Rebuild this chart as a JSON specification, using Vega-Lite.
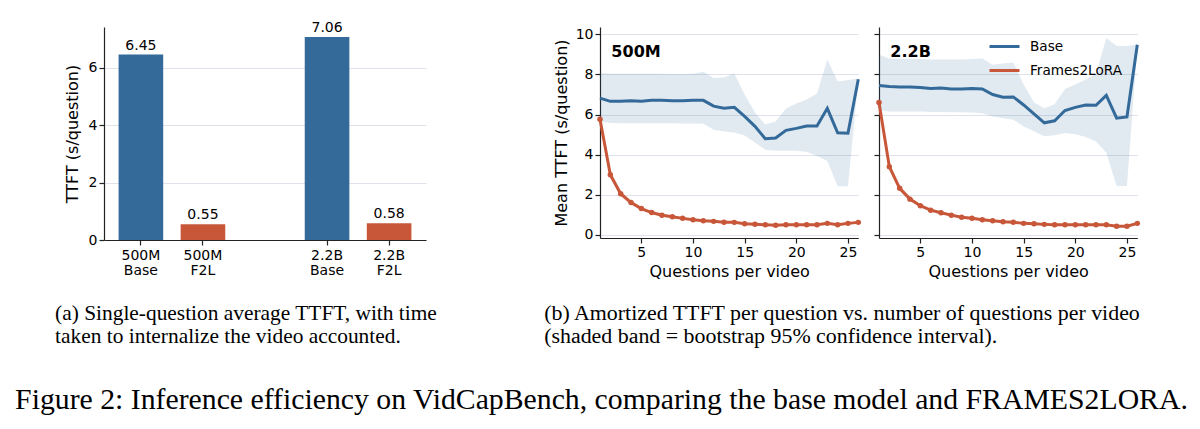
{
  "$schema": "https://vega.github.io/schema/vega-lite/v6.json",
  "padding": {"left": 15, "top": 21, "right": 0, "bottom": 0},
  "background": "white",
  "config": {
    "font": "DejaVu Sans",
    "view": {"stroke": null},
    "axis": {
      "labelFont": "DejaVu Sans", "labelFontSize": 14, "labelColor": "#000",
      "titleFont": "DejaVu Sans", "titleFontSize": 16, "titleFontWeight": "normal", "titleColor": "#000",
      "domainColor": "#222", "tickColor": "#222", "tickSize": 5, "domainWidth": 1.2, "tickWidth": 1.2,
      "gridColor": "#dfe2ea", "gridWidth": 1
    },
    "legend": {"labelFont": "DejaVu Sans", "labelFontSize": 14, "labelColor": "#000"}
  },
  "datasets": {
    "bars": [
      {"label": "500M Base", "s": "Base", "v": 6.45},
      {"label": "500M F2L", "s": "Frames2LoRA", "v": 0.55},
      {"label": "2.2B Base", "s": "Base", "v": 7.06},
      {"label": "2.2B F2L", "s": "Frames2LoRA", "v": 0.58}
    ],
    "lines": [
      {"m": "500M", "s": "Base", "q": 1, "y": 6.82, "lo": 5.66, "hi": 8.07},
      {"m": "500M", "s": "Base", "q": 2, "y": 6.66, "lo": 5.58, "hi": 8.04},
      {"m": "500M", "s": "Base", "q": 3, "y": 6.66, "lo": 5.57, "hi": 8.04},
      {"m": "500M", "s": "Base", "q": 4, "y": 6.69, "lo": 5.57, "hi": 8.04},
      {"m": "500M", "s": "Base", "q": 5, "y": 6.67, "lo": 5.57, "hi": 8.04},
      {"m": "500M", "s": "Base", "q": 6, "y": 6.71, "lo": 5.57, "hi": 8.04},
      {"m": "500M", "s": "Base", "q": 7, "y": 6.71, "lo": 5.57, "hi": 8.04},
      {"m": "500M", "s": "Base", "q": 8, "y": 6.69, "lo": 5.57, "hi": 8.03},
      {"m": "500M", "s": "Base", "q": 9, "y": 6.69, "lo": 5.56, "hi": 8.03},
      {"m": "500M", "s": "Base", "q": 10, "y": 6.71, "lo": 5.56, "hi": 8.04},
      {"m": "500M", "s": "Base", "q": 11, "y": 6.71, "lo": 5.54, "hi": 8.14},
      {"m": "500M", "s": "Base", "q": 12, "y": 6.42, "lo": 5.24, "hi": 7.82},
      {"m": "500M", "s": "Base", "q": 13, "y": 6.32, "lo": 5.16, "hi": 7.85},
      {"m": "500M", "s": "Base", "q": 14, "y": 6.36, "lo": 5.11, "hi": 8.05},
      {"m": "500M", "s": "Base", "q": 15, "y": 5.91, "lo": 4.95, "hi": 7.0},
      {"m": "500M", "s": "Base", "q": 16, "y": 5.41, "lo": 4.6, "hi": 6.1},
      {"m": "500M", "s": "Base", "q": 17, "y": 4.79, "lo": 4.24, "hi": 5.5},
      {"m": "500M", "s": "Base", "q": 18, "y": 4.83, "lo": 4.2, "hi": 5.65},
      {"m": "500M", "s": "Base", "q": 19, "y": 5.21, "lo": 4.2, "hi": 6.3},
      {"m": "500M", "s": "Base", "q": 20, "y": 5.31, "lo": 4.2, "hi": 6.55},
      {"m": "500M", "s": "Base", "q": 21, "y": 5.43, "lo": 4.14, "hi": 6.75},
      {"m": "500M", "s": "Base", "q": 22, "y": 5.43, "lo": 3.93, "hi": 7.05},
      {"m": "500M", "s": "Base", "q": 23, "y": 6.31, "lo": 3.68, "hi": 8.75},
      {"m": "500M", "s": "Base", "q": 24, "y": 5.09, "lo": 2.42, "hi": 7.65},
      {"m": "500M", "s": "Base", "q": 25, "y": 5.07, "lo": 2.42, "hi": 7.72},
      {"m": "500M", "s": "Base", "q": 26, "y": 7.76, "lo": 7.7, "hi": 7.8},
      {"m": "500M", "s": "Frames2LoRA", "q": 1, "y": 5.77, "lo": 5.52, "hi": 6.02},
      {"m": "500M", "s": "Frames2LoRA", "q": 2, "y": 3.0, "lo": 2.8, "hi": 3.2},
      {"m": "500M", "s": "Frames2LoRA", "q": 3, "y": 2.05, "lo": 1.9, "hi": 2.2},
      {"m": "500M", "s": "Frames2LoRA", "q": 4, "y": 1.61, "lo": 1.49, "hi": 1.73},
      {"m": "500M", "s": "Frames2LoRA", "q": 5, "y": 1.31, "lo": 1.23, "hi": 1.39},
      {"m": "500M", "s": "Frames2LoRA", "q": 6, "y": 1.11, "lo": 1.03, "hi": 1.19},
      {"m": "500M", "s": "Frames2LoRA", "q": 7, "y": 0.98, "lo": 0.9, "hi": 1.06},
      {"m": "500M", "s": "Frames2LoRA", "q": 8, "y": 0.9, "lo": 0.82, "hi": 0.98},
      {"m": "500M", "s": "Frames2LoRA", "q": 9, "y": 0.82, "lo": 0.77, "hi": 0.87},
      {"m": "500M", "s": "Frames2LoRA", "q": 10, "y": 0.75, "lo": 0.7, "hi": 0.8},
      {"m": "500M", "s": "Frames2LoRA", "q": 11, "y": 0.7, "lo": 0.65, "hi": 0.75},
      {"m": "500M", "s": "Frames2LoRA", "q": 12, "y": 0.67, "lo": 0.62, "hi": 0.72},
      {"m": "500M", "s": "Frames2LoRA", "q": 13, "y": 0.63, "lo": 0.58, "hi": 0.68},
      {"m": "500M", "s": "Frames2LoRA", "q": 14, "y": 0.62, "lo": 0.57, "hi": 0.67},
      {"m": "500M", "s": "Frames2LoRA", "q": 15, "y": 0.55, "lo": 0.5, "hi": 0.6},
      {"m": "500M", "s": "Frames2LoRA", "q": 16, "y": 0.53, "lo": 0.48, "hi": 0.58},
      {"m": "500M", "s": "Frames2LoRA", "q": 17, "y": 0.5, "lo": 0.45, "hi": 0.55},
      {"m": "500M", "s": "Frames2LoRA", "q": 18, "y": 0.48, "lo": 0.43, "hi": 0.53},
      {"m": "500M", "s": "Frames2LoRA", "q": 19, "y": 0.5, "lo": 0.45, "hi": 0.55},
      {"m": "500M", "s": "Frames2LoRA", "q": 20, "y": 0.5, "lo": 0.45, "hi": 0.55},
      {"m": "500M", "s": "Frames2LoRA", "q": 21, "y": 0.5, "lo": 0.45, "hi": 0.55},
      {"m": "500M", "s": "Frames2LoRA", "q": 22, "y": 0.5, "lo": 0.45, "hi": 0.55},
      {"m": "500M", "s": "Frames2LoRA", "q": 23, "y": 0.57, "lo": 0.52, "hi": 0.62},
      {"m": "500M", "s": "Frames2LoRA", "q": 24, "y": 0.5, "lo": 0.45, "hi": 0.55},
      {"m": "500M", "s": "Frames2LoRA", "q": 25, "y": 0.57, "lo": 0.52, "hi": 0.62},
      {"m": "500M", "s": "Frames2LoRA", "q": 26, "y": 0.62, "lo": 0.57, "hi": 0.67},
      {"m": "2.2B", "s": "Base", "q": 1, "y": 7.45, "lo": 6.23, "hi": 8.98},
      {"m": "2.2B", "s": "Base", "q": 2, "y": 7.4, "lo": 6.15, "hi": 8.8},
      {"m": "2.2B", "s": "Base", "q": 3, "y": 7.38, "lo": 6.15, "hi": 8.77},
      {"m": "2.2B", "s": "Base", "q": 4, "y": 7.37, "lo": 6.15, "hi": 8.77},
      {"m": "2.2B", "s": "Base", "q": 5, "y": 7.35, "lo": 6.15, "hi": 8.77},
      {"m": "2.2B", "s": "Base", "q": 6, "y": 7.3, "lo": 6.13, "hi": 8.75},
      {"m": "2.2B", "s": "Base", "q": 7, "y": 7.32, "lo": 6.13, "hi": 8.75},
      {"m": "2.2B", "s": "Base", "q": 8, "y": 7.28, "lo": 6.12, "hi": 8.75},
      {"m": "2.2B", "s": "Base", "q": 9, "y": 7.28, "lo": 6.12, "hi": 8.75},
      {"m": "2.2B", "s": "Base", "q": 10, "y": 7.3, "lo": 6.1, "hi": 8.77},
      {"m": "2.2B", "s": "Base", "q": 11, "y": 7.28, "lo": 6.07, "hi": 8.8},
      {"m": "2.2B", "s": "Base", "q": 12, "y": 7.0, "lo": 5.9, "hi": 8.48},
      {"m": "2.2B", "s": "Base", "q": 13, "y": 6.87, "lo": 5.82, "hi": 8.55},
      {"m": "2.2B", "s": "Base", "q": 14, "y": 6.88, "lo": 5.74, "hi": 8.6},
      {"m": "2.2B", "s": "Base", "q": 15, "y": 6.48, "lo": 5.41, "hi": 7.5},
      {"m": "2.2B", "s": "Base", "q": 16, "y": 6.03, "lo": 5.17, "hi": 6.6},
      {"m": "2.2B", "s": "Base", "q": 17, "y": 5.59, "lo": 4.92, "hi": 6.32},
      {"m": "2.2B", "s": "Base", "q": 18, "y": 5.69, "lo": 4.97, "hi": 6.52},
      {"m": "2.2B", "s": "Base", "q": 19, "y": 6.2, "lo": 5.08, "hi": 7.27},
      {"m": "2.2B", "s": "Base", "q": 20, "y": 6.36, "lo": 5.02, "hi": 7.5},
      {"m": "2.2B", "s": "Base", "q": 21, "y": 6.48, "lo": 4.88, "hi": 7.75},
      {"m": "2.2B", "s": "Base", "q": 22, "y": 6.46, "lo": 4.65, "hi": 8.02},
      {"m": "2.2B", "s": "Base", "q": 23, "y": 6.96, "lo": 4.1, "hi": 9.82},
      {"m": "2.2B", "s": "Base", "q": 24, "y": 5.82, "lo": 2.43, "hi": 9.42},
      {"m": "2.2B", "s": "Base", "q": 25, "y": 5.88, "lo": 2.43, "hi": 9.42},
      {"m": "2.2B", "s": "Base", "q": 26, "y": 9.48, "lo": 9.4, "hi": 9.5},
      {"m": "2.2B", "s": "Frames2LoRA", "q": 1, "y": 6.6, "lo": 6.35, "hi": 6.85},
      {"m": "2.2B", "s": "Frames2LoRA", "q": 2, "y": 3.4, "lo": 3.2, "hi": 3.6},
      {"m": "2.2B", "s": "Frames2LoRA", "q": 3, "y": 2.32, "lo": 2.17, "hi": 2.47},
      {"m": "2.2B", "s": "Frames2LoRA", "q": 4, "y": 1.78, "lo": 1.66, "hi": 1.9},
      {"m": "2.2B", "s": "Frames2LoRA", "q": 5, "y": 1.45, "lo": 1.37, "hi": 1.53},
      {"m": "2.2B", "s": "Frames2LoRA", "q": 6, "y": 1.23, "lo": 1.15, "hi": 1.31},
      {"m": "2.2B", "s": "Frames2LoRA", "q": 7, "y": 1.1, "lo": 1.02, "hi": 1.18},
      {"m": "2.2B", "s": "Frames2LoRA", "q": 8, "y": 0.98, "lo": 0.9, "hi": 1.06},
      {"m": "2.2B", "s": "Frames2LoRA", "q": 9, "y": 0.88, "lo": 0.83, "hi": 0.93},
      {"m": "2.2B", "s": "Frames2LoRA", "q": 10, "y": 0.82, "lo": 0.77, "hi": 0.87},
      {"m": "2.2B", "s": "Frames2LoRA", "q": 11, "y": 0.75, "lo": 0.7, "hi": 0.8},
      {"m": "2.2B", "s": "Frames2LoRA", "q": 12, "y": 0.7, "lo": 0.65, "hi": 0.75},
      {"m": "2.2B", "s": "Frames2LoRA", "q": 13, "y": 0.65, "lo": 0.6, "hi": 0.7},
      {"m": "2.2B", "s": "Frames2LoRA", "q": 14, "y": 0.63, "lo": 0.58, "hi": 0.68},
      {"m": "2.2B", "s": "Frames2LoRA", "q": 15, "y": 0.57, "lo": 0.52, "hi": 0.62},
      {"m": "2.2B", "s": "Frames2LoRA", "q": 16, "y": 0.55, "lo": 0.5, "hi": 0.6},
      {"m": "2.2B", "s": "Frames2LoRA", "q": 17, "y": 0.52, "lo": 0.47, "hi": 0.57},
      {"m": "2.2B", "s": "Frames2LoRA", "q": 18, "y": 0.5, "lo": 0.45, "hi": 0.55},
      {"m": "2.2B", "s": "Frames2LoRA", "q": 19, "y": 0.5, "lo": 0.45, "hi": 0.55},
      {"m": "2.2B", "s": "Frames2LoRA", "q": 20, "y": 0.5, "lo": 0.45, "hi": 0.55},
      {"m": "2.2B", "s": "Frames2LoRA", "q": 21, "y": 0.5, "lo": 0.45, "hi": 0.55},
      {"m": "2.2B", "s": "Frames2LoRA", "q": 22, "y": 0.5, "lo": 0.45, "hi": 0.55},
      {"m": "2.2B", "s": "Frames2LoRA", "q": 23, "y": 0.5, "lo": 0.45, "hi": 0.55},
      {"m": "2.2B", "s": "Frames2LoRA", "q": 24, "y": 0.43, "lo": 0.38, "hi": 0.48},
      {"m": "2.2B", "s": "Frames2LoRA", "q": 25, "y": 0.43, "lo": 0.38, "hi": 0.48},
      {"m": "2.2B", "s": "Frames2LoRA", "q": 26, "y": 0.57, "lo": 0.52, "hi": 0.62}
    ]
  },
  "title": {
    "text": "Figure 2: Inference efficiency on VidCapBench, comparing the base model and FRAMES2LORA.",
    "orient": "bottom", "anchor": "start", "frame": "bounds", "dx": -40,
    "font": "Liberation Serif", "fontSize": 29.75, "fontWeight": "normal", "color": "#000", "offset": 38
  },
  "spacing": 106,
  "resolve": {"scale": {"color": "independent"}, "legend": {"color": "independent"}},
  "hconcat": [
    {
      "width": 322,
      "height": 213,
      "data": {"name": "bars"},
      "title": {
        "text": ["(a) Single-question average TTFT, with time", "taken to internalize the video accounted."],
        "orient": "bottom", "anchor": "start", "frame": "bounds",
        "font": "Liberation Serif", "fontSize": 21.4, "fontWeight": "normal", "color": "#000",
        "lineHeight": 23, "offset": 26, "dx": -9
      },
      "encoding": {
        "x": {
          "field": "label", "type": "nominal", "sort": null,
          "scale": {"domain": ["500M Base", "500M F2L", " ", "2.2B Base", "2.2B F2L"], "paddingInner": 0.281, "paddingOuter": 0.235},
          "axis": {
            "values": ["500M Base", "500M F2L", "2.2B Base", "2.2B F2L"],
            "labelExpr": "split(datum.label, ' ')", "labelAngle": 0, "title": null,
            "labelLineHeight": 15, "labelPadding": 3, "grid": false
          }
        }
      },
      "layer": [
        {
          "mark": {"type": "bar"},
          "encoding": {
            "y": {
              "field": "v", "type": "quantitative",
              "scale": {"domain": [0, 7.41], "nice": false},
              "axis": {"values": [0, 2, 4, 6], "title": "TTFT (s/question)", "grid": true, "labelPadding": 2, "titlePadding": 8}
            },
            "color": {
              "field": "s", "type": "nominal",
              "scale": {"domain": ["Base", "Frames2LoRA"], "range": ["#336a9a", "#c8573a"]},
              "legend": null
            }
          }
        },
        {
          "mark": {"type": "text", "dy": -5, "baseline": "alphabetic", "fontSize": 14, "color": "#000"},
          "encoding": {
            "y": {"field": "v", "type": "quantitative"},
            "text": {"field": "v", "type": "quantitative", "format": ".2f"}
          }
        }
      ]
    },
    {
      "spacing": 8,
      "resolve": {"scale": {"color": "independent"}, "legend": {"color": "independent"}},
      "title": {
        "text": ["(b) Amortized TTFT per question vs. number of questions per video", "(shaded band = bootstrap 95% confidence interval)."],
        "orient": "bottom", "anchor": "start", "frame": "bounds",
        "font": "Liberation Serif", "fontSize": 21.9, "fontWeight": "normal", "color": "#000",
        "lineHeight": 23, "offset": 24, "dx": -9
      },
      "hconcat": [
        {
          "width": 258.3,
          "height": 211,
          "title": {"text": " ", "fontSize": 1, "offset": 4},
          "data": {"name": "lines"},
          "transform": [{"filter": "datum.m === '500M'"}],
          "encoding": {
            "x": {
              "field": "q", "type": "quantitative",
              "scale": {"domain": [1, 26], "nice": false, "zero": false},
              "axis": {"values": [5, 10, 15, 20, 25], "title": "Questions per video", "grid": false, "labelPadding": 2, "titlePadding": 4}
            },
            "y": {
              "field": "y", "type": "quantitative",
              "scale": {"domain": [-0.16, 10.37], "nice": false, "zero": false},
              "axis": {"values": [0, 2, 4, 6, 8, 10], "title": "Mean TTFT (s/question)", "grid": true, "labelPadding": 2, "titlePadding": 6}
            },
            "color": {
              "field": "s", "type": "nominal",
              "scale": {"domain": ["Base", "Frames2LoRA"], "range": ["#336a9a", "#c8573a"]},
              "legend": null
            }
          },
          "layer": [
            {
              "mark": {"type": "area", "opacity": 0.14},
              "encoding": {"y": {"field": "lo", "type": "quantitative", "scale": {"domain": [-0.16, 10.37], "nice": false, "zero": false}, "axis": {"values": [0, 2, 4, 6, 8, 10], "title": "Mean TTFT (s/question)", "grid": true, "labelPadding": 2, "titlePadding": 6}}, "y2": {"field": "hi"}}
            },
            {"mark": {"type": "line", "strokeWidth": 3}},
            {
              "transform": [{"filter": "datum.s === 'Frames2LoRA'"}],
              "mark": {"type": "point", "filled": true, "size": 30, "opacity": 1}
            },
            {
              "transform": [{"filter": "datum.q === 1 && datum.s === 'Base'"}],
              "mark": {"type": "text", "fontWeight": "bold", "fontSize": 16, "align": "left", "baseline": "middle", "color": "#000"},
              "encoding": {
                "x": {"datum": 2.1, "type": "quantitative"},
                "y": {"datum": 9.12, "type": "quantitative"},
                "text": {"field": "m"},
                "color": {"value": "#000"}
              }
            }
          ]
        },
        {
          "width": 258.3,
          "height": 211,
          "title": {"text": " ", "fontSize": 1, "offset": 4},
          "data": {"name": "lines"},
          "transform": [{"filter": "datum.m === '2.2B'"}],
          "encoding": {
            "x": {
              "field": "q", "type": "quantitative",
              "scale": {"domain": [1, 26], "nice": false, "zero": false},
              "axis": {"values": [5, 10, 15, 20, 25], "title": "Questions per video", "grid": false, "labelPadding": 2, "titlePadding": 4}
            },
            "y": {
              "field": "y", "type": "quantitative",
              "scale": {"domain": [-0.16, 10.37], "nice": false, "zero": false},
              "axis": {"values": [0, 2, 4, 6, 8, 10], "title": null, "labels": false, "grid": true}
            },
            "color": {
              "field": "s", "type": "nominal",
              "scale": {"domain": ["Base", "Frames2LoRA"], "range": ["#336a9a", "#c8573a"]},
              "legend": {
                "orient": "none", "legendX": 109, "legendY": 3, "title": null, "symbolType": "stroke", "symbolStrokeWidth": 3,
                "symbolSize": 900, "symbolOpacity": 1, "labelFontSize": 13.6, "padding": 0,
                "rowPadding": 0, "labelOffset": 9
              }
            }
          },
          "layer": [
            {
              "mark": {"type": "area", "opacity": 0.14},
              "encoding": {"y": {"field": "lo", "type": "quantitative", "scale": {"domain": [-0.16, 10.37], "nice": false, "zero": false}, "axis": {"values": [0, 2, 4, 6, 8, 10], "title": null, "labels": false, "grid": true}}, "y2": {"field": "hi"}}
            },
            {"mark": {"type": "line", "strokeWidth": 3}},
            {
              "transform": [{"filter": "datum.s === 'Frames2LoRA'"}],
              "mark": {"type": "point", "filled": true, "size": 30, "opacity": 1}
            },
            {
              "transform": [{"filter": "datum.q === 1 && datum.s === 'Base'"}],
              "mark": {"type": "text", "fontWeight": "bold", "fontSize": 16, "align": "left", "baseline": "middle", "color": "#000"},
              "encoding": {
                "x": {"datum": 2.1, "type": "quantitative"},
                "y": {"datum": 9.12, "type": "quantitative"},
                "text": {"field": "m"},
                "color": {"value": "#000"}
              }
            }
          ]
        }
      ]
    }
  ]
}
